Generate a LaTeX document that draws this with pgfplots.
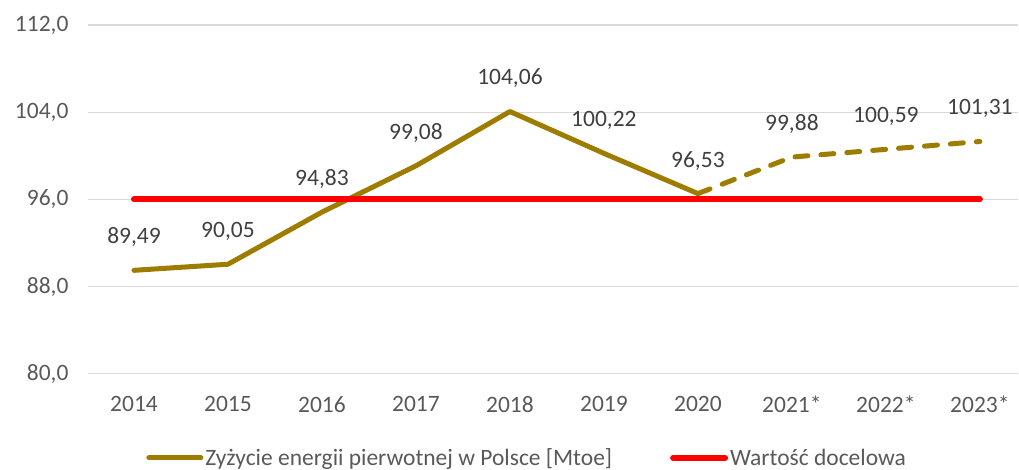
\documentclass[border=0pt]{standalone}
\usepackage{pgfplots}
\pgfplotsset{compat=1.18}
\usepackage{fontspec}
\setmainfont{Carlito}
\definecolor{gold}{RGB}{158,124,0}
\definecolor{redl}{RGB}{255,0,0}
\definecolor{gridc}{RGB}{217,217,217}
\definecolor{tickc}{RGB}{89,89,89}
\definecolor{labc}{RGB}{64,64,64}
\begin{document}
\begin{tikzpicture}
\begin{axis}[
  scale only axis,
  width=931pt, height=349pt,
  xmin=-0.49, xmax=9.41,
  ymin=80, ymax=112,
  ytick={80,88,96,104,112},
  xtick={0,...,9},
  xticklabels={2014,2015,2016,2017,2018,2019,2020,2021*,2022*,2023*},
  ymajorgrids, grid style={gridc, line width=1.2pt},
  axis line style={draw=none},
  major tick length=0pt,
  tick label style={font=\fontsize{23.5}{27}\selectfont, text=tickc},
  /pgf/number format/assume math mode=true,
  yticklabel={\pgfmathprintnumber[fixed,fixed zerofill,precision=1,use comma]{\tick}},
  yticklabel style={xshift=-16pt},
  xticklabel style={yshift=-19pt},
  clip=false,
  legend columns=2,
  legend style={draw=none, fill=none, at={(0.472,-0.241)}, anchor=center,
    font=\fontsize{23.5}{27}\selectfont, text=tickc,
    /tikz/every even column/.append style={column sep=56pt},
    inner sep=0pt,
    nodes={inner xsep=2pt}},
  legend image code/.code={\draw[#1, line cap=round] (0pt,0pt) -- (52pt,0pt);},
  nodes near coords style={font=\fontsize{23.5}{27}\selectfont, text=labc, anchor=center, yshift=33pt},
]
\addplot[gold, line width=5pt, line join=round, line cap=round,
  nodes near coords={\pgfmathprintnumber[fixed,fixed zerofill,precision=2,use comma,assume math mode=true]{\pgfplotspointmeta}},
  point meta=explicit]
  coordinates {(0,89.49)[89.49] (1,90.05)[90.05] (2,94.83)[94.83] (3,99.08)[99.08] (4,104.06)[104.06] (5,100.22)[100.22] (6,96.53)[96.53]};
\addlegendentry{Zyżycie energii pierwotnej w Polsce [Mtoe]}
\addplot[redl, line width=6pt, line cap=round]
  coordinates {(0,96) (9,96)};
\addlegendentry{Wartość docelowa}
\addplot[gold, line width=5pt, line join=round, line cap=round, dash pattern=on 13pt off 13pt, forget plot]
  coordinates {(6,96.53) (7,99.88) (8,100.59) (9,101.31)};
\addplot[draw=none, forget plot,
  nodes near coords={\pgfmathprintnumber[fixed,fixed zerofill,precision=2,use comma,assume math mode=true]{\pgfplotspointmeta}},
  point meta=explicit]
  coordinates {(7,99.88)[99.88] (8,100.59)[100.59] (9,101.31)[101.31]};
\path[use as bounding box] (rel axis cs:0,0) ++(-88pt,-94pt) rectangle ([xshift=0pt,yshift=25pt]rel axis cs:1,1);
\end{axis}
\end{tikzpicture}
\end{document}
